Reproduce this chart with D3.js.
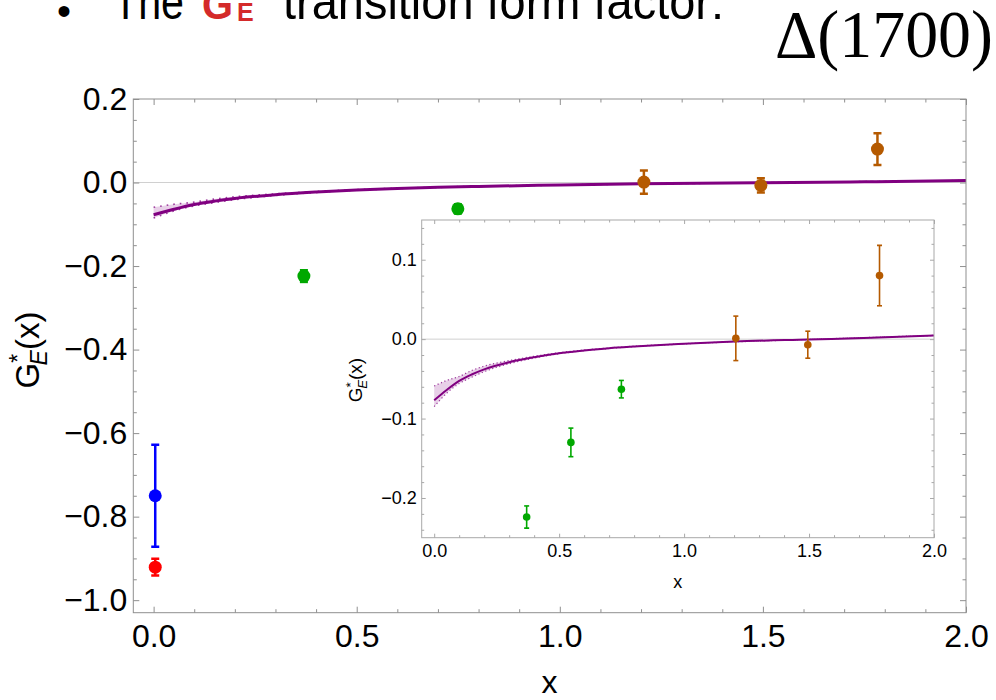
<!DOCTYPE html>
<html><head><meta charset="utf-8">
<script src="https://cdn.jsdelivr.net/npm/d3@7"></script>
<style>
body{margin:0;background:#fff}
svg{display:block}
text{font-family:"Liberation Sans",Arial,sans-serif}
</style>
</head><body>
<svg id="chart" width="996" height="700"></svg>
<script>
// Δ(1700) electric transition form factor G_E*(x): model curve with
// uncertainty band, plus data points, in a full view and a zoomed inset.

// model curve
const curveX = [0, 0.05, 0.1, 0.15, 0.2, 0.3, 0.4, 0.5, 0.6, 0.7, 0.8, 1.0, 1.2, 1.5, 1.75, 2.0];
const curveY = [-0.077, -0.064, -0.0526, -0.0445, -0.038, -0.029, -0.0227, -0.0177, -0.0143, -0.0114, -0.0093, -0.0059, -0.003, -0.0004, 0.0017, 0.0046];

// uncertainty band of the model
const bandX = [0, 0.05, 0.1, 0.15, 0.2, 0.3, 0.4, 0.5, 0.7, 1.0, 1.5, 2.0];
const bandUpper = [-0.059, -0.052, -0.047, -0.0395, -0.034, -0.027, -0.0215, -0.017, -0.011, -0.0057, -0.0003, 0.0048];
const bandLower = [-0.085, -0.068, -0.056, -0.048, -0.041, -0.031, -0.0238, -0.0184, -0.0118, -0.0061, -0.0005, 0.0044];

// data sets (x, value, error)
const greenX = [0.37, 0.547, 0.749];
const greenY = [-0.224, -0.13, -0.063];
const greenErr = [0.014, 0.018, 0.011];
const brownX = [1.207, 1.495, 1.782];
const brownY = [0.001, -0.007, 0.08];
const brownErr = [0.028, 0.017, 0.038];
const blueX = [0.004];
const blueY = [-0.75];
const blueErr = [0.122];
const redX = [0.004];
const redY = [-0.921];
const redErr = [0.02];

// tick labels
const mainXTicks = [0, 0.5, 1, 1.5, 2];
const mainYTicks = [0.2, 0, -0.2, -0.4, -0.6, -0.8, -1.0];
const insetXTicks = [0, 0.5, 1, 1.5, 2];
const insetYTicks = [0.1, 0, -0.1, -0.2];

const COL = {purple: "#800080", green: "#00a800", brown: "#b55a00", blue: "#0000ff", red: "#ff0000"};

const svg = d3.select("#chart");
const fmt = d3.format(".1f");

function zipPts(xs, ys, es, color) {
  return xs.map((x, i) => ({x, y: ys[i], e: es[i], color}));
}
const points = [
  ...zipPts(greenX, greenY, greenErr, COL.green),
  ...zipPts(brownX, brownY, brownErr, COL.brown),
  ...zipPts(blueX, blueY, blueErr, COL.blue),
  ...zipPts(redX, redY, redErr, COL.red)
];
const curve = curveX.map((x, i) => ({x, y: curveY[i]}));
const band = bandX.map((x, i) => ({x, lo: bandLower[i], hi: bandUpper[i]}));

function minors(lo, hi, step, majors) {
  return d3.range(Math.round((hi - lo) / step) + 1)
    .map(i => +(lo + i * step).toFixed(4))
    .filter(v => !majors.some(m => Math.abs(m - v) < 1e-6));
}

function panel(cfg) {
  const {id, x, y, xt, yt, xMinor, yMinor, font, majLen, minLen, frame, lw, r, ebw, cap, dots} = cfg;
  const g = svg.append("g");
  const [x0, x1] = x.range();
  const [y1, y0] = y.range();

  if (cfg.bg) {
    g.append("rect").attr("x", cfg.bg[0]).attr("y", cfg.bg[1])
      .attr("width", cfg.bg[2]).attr("height", cfg.bg[3]).attr("fill", "#fff");
  }

  g.append("defs").append("clipPath").attr("id", id)
    .append("rect").attr("x", x0).attr("y", y0).attr("width", x1 - x0).attr("height", y1 - y0);

  // zero line
  g.append("line").attr("x1", x0).attr("x2", x1)
    .attr("y1", y(0)).attr("y2", y(0)).attr("stroke", "#d0d0d0").attr("stroke-width", 1);

  const plot = g.append("g").attr("clip-path", `url(#${id})`);

  // band
  plot.append("path").datum(band)
    .attr("d", d3.area().x(d => x(d.x)).y0(d => y(d.lo)).y1(d => y(d.hi)).curve(d3.curveMonotoneX))
    .attr("fill", "rgba(150,40,150,0.22)");
  ["lo", "hi"].forEach(k => {
    plot.append("path").datum(band)
      .attr("d", d3.line().x(d => x(d.x)).y(d => y(d[k])).curve(d3.curveMonotoneX))
      .attr("fill", "none").attr("stroke", COL.purple).attr("stroke-opacity", 0.75)
      .attr("stroke-width", dots[0]).attr("stroke-dasharray", dots[1]);
  });

  // curve
  plot.append("path").datum(curve)
    .attr("d", d3.line().x(d => x(d.x)).y(d => y(d.y)).curve(d3.curveMonotoneX))
    .attr("fill", "none").attr("stroke", COL.purple).attr("stroke-width", lw);

  // points with error bars
  const pg = plot.selectAll("g.pt").data(points).join("g").attr("class", "pt");
  pg.append("line").attr("x1", d => x(d.x)).attr("x2", d => x(d.x))
    .attr("y1", d => y(d.y - d.e)).attr("y2", d => y(d.y + d.e))
    .attr("stroke", d => d.color).attr("stroke-width", ebw);
  [-1, 1].forEach(s => {
    pg.append("line").attr("x1", d => x(d.x) - cap).attr("x2", d => x(d.x) + cap)
      .attr("y1", d => y(d.y + s * d.e)).attr("y2", d => y(d.y + s * d.e))
      .attr("stroke", d => d.color).attr("stroke-width", ebw);
  });
  pg.append("circle").attr("cx", d => x(d.x)).attr("cy", d => y(d.y)).attr("r", r)
    .attr("fill", d => d.color);

  // frame ticks (inward, all sides)
  const tickStyle = sel => {
    sel.select(".domain").remove();
    sel.selectAll(".tick line").attr("stroke", frame);
    sel.selectAll(".tick text").attr("fill", "#000").style("font-size", font + "px")
      .style("font-family", '"Liberation Sans", Arial, sans-serif');
  };
  const addAxis = (gen, tx, ty, vals, len, labels, pad) => {
    const a = gen.tickValues(vals).tickSizeInner(-len).tickSizeOuter(0).tickPadding(pad || 0);
    if (!labels) a.tickFormat("");
    else a.tickFormat(fmt);
    g.append("g").attr("transform", `translate(${tx},${ty})`).call(a).call(tickStyle);
  };
  addAxis(d3.axisBottom(x), 0, y1, xt, majLen, true, cfg.xPad);
  addAxis(d3.axisBottom(x), 0, y1, xMinor, minLen, false);
  addAxis(d3.axisTop(x), 0, y0, xt, majLen, false);
  addAxis(d3.axisTop(x), 0, y0, xMinor, minLen, false);
  addAxis(d3.axisLeft(y), x0, 0, yt, majLen, true, cfg.yPad);
  addAxis(d3.axisLeft(y), x0, 0, yMinor, minLen, false);
  addAxis(d3.axisRight(y), x1, 0, yt, majLen, false);
  addAxis(d3.axisRight(y), x1, 0, yMinor, minLen, false);

  g.append("rect").attr("x", x0).attr("y", y0).attr("width", x1 - x0).attr("height", y1 - y0)
    .attr("fill", "none").attr("stroke", frame).attr("stroke-width", 1);
  return g;
}

function yLabel(g, cx, cy, size) {
  const t = g.append("text").attr("transform", `translate(${cx},${cy}) rotate(-90)`)
    .attr("text-anchor", "middle").style("font-size", size + "px").attr("fill", "#000");
  t.append("tspan").text("G");
  t.append("tspan").attr("dy", -size * 0.38).style("font-size", (size * 0.7) + "px").text("*");
  t.append("tspan").attr("dx", -size * 0.35).attr("dy", size * 0.62)
    .style("font-size", (size * 0.7) + "px").style("font-style", "italic").text("E");
  t.append("tspan").attr("dy", -size * 0.24).text("(x)");
}

// main panel
const xMain = d3.scaleLinear().domain([-0.05, 2]).range([133.3, 966]);
const yMain = d3.scaleLinear().domain([-1.03, 0.2]).range([612.7, 99]);
const gMain = panel({
  id: "clipMain", x: xMain, y: yMain, xt: mainXTicks, yt: mainYTicks,
  xMinor: minors(0, 2, 0.1, mainXTicks), yMinor: minors(-1.0, 0.2, 0.05, mainYTicks),
  font: 32, majLen: 6, minLen: 3.5, frame: "#8f8f8f", lw: 3, r: 6.5, ebw: 2.5, cap: 4,
  dots: [1.6, "1.6,5"], xPad: 12, yPad: 6
});
gMain.append("text").attr("x", 549.5).attr("y", 693).attr("text-anchor", "middle")
  .style("font-size", "32px").text("x");
yLabel(gMain, 39, 350, 33);

// inset panel
const xIn = d3.scaleLinear().domain([-0.05, 2]).range([421.7, 934]);
const yIn = d3.scaleLinear().domain([-0.25, 0.15]).range([537.7, 220]);
const gIn = panel({
  id: "clipInset", x: xIn, y: yIn, xt: insetXTicks, yt: insetYTicks,
  xMinor: minors(0, 2, 0.1, insetXTicks), yMinor: minors(-0.24, 0.14, 0.02, insetYTicks),
  font: 18, majLen: 4, minLen: 2.5, frame: "#a8a8a8", lw: 2, r: 3.8, ebw: 1.6, cap: 2.5,
  dots: [1.2, "1.2,2.5"], xPad: 7, yPad: 5,
  bg: [345, 216, 613, 380]
});
gIn.append("text").attr("x", 677.8).attr("y", 588).attr("text-anchor", "middle")
  .style("font-size", "18px").text("x");
yLabel(gIn, 362, 380, 19);

// slide heading
const head = svg.append("g");
head.append("text").attr("x", 57).attr("y", 25).style("font-size", "40px").text("•");
head.append("text").attr("x", 113).attr("y", 18.5).style("font-size", "50px")
  .attr("textLength", 71).attr("lengthAdjust", "spacingAndGlyphs").text("The");
head.append("text").attr("x", 202).attr("y", 18.5).style("font-size", "42px")
  .style("font-weight", "bold").attr("fill", "#d42a2a")
  .attr("textLength", 31).attr("lengthAdjust", "spacingAndGlyphs").text("G");
head.append("text").attr("x", 237).attr("y", 21).style("font-size", "25px")
  .style("font-weight", "bold").attr("fill", "#d42a2a").text("E");
head.append("text").attr("x", 283).attr("y", 18.5).style("font-size", "50px")
  .attr("textLength", 441).attr("lengthAdjust", "spacingAndGlyphs").text("transition form factor:");
head.append("text").attr("x", 775).attr("y", 57).style("font-size", "67px")
  .style("font-family", '"Liberation Serif", "DejaVu Serif", serif')
  .attr("textLength", 218).attr("lengthAdjust", "spacingAndGlyphs").text("Δ(1700)");
</script>
</body></html>
